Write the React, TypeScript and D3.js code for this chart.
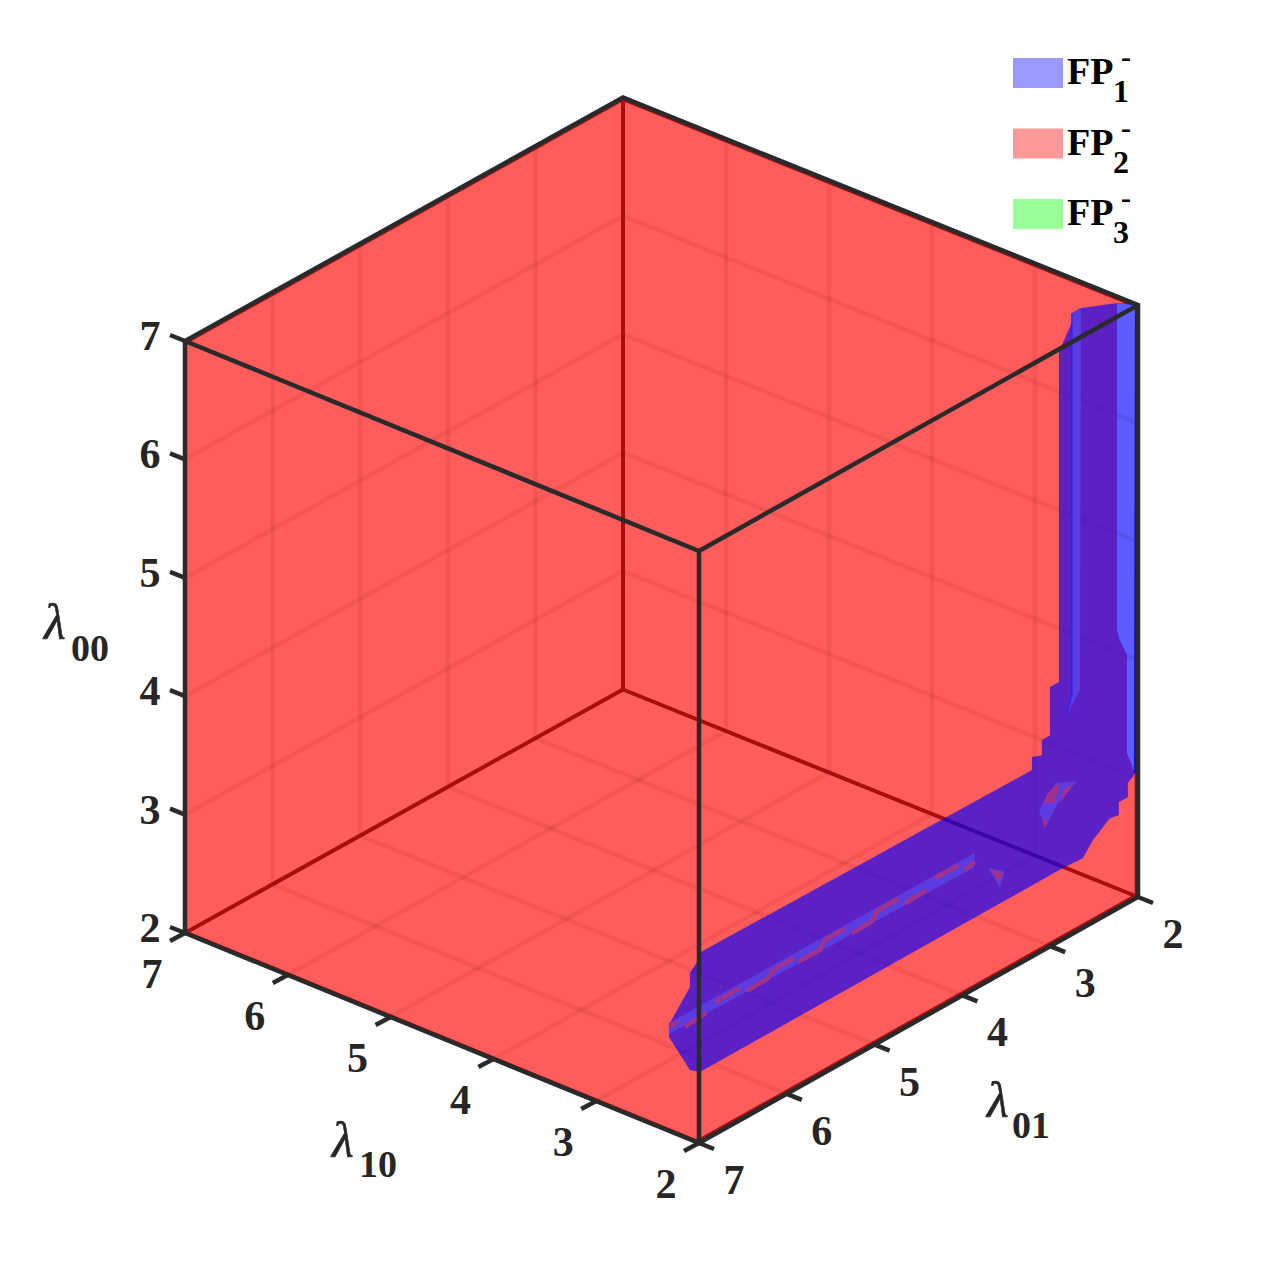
import React from "react";
import * as d3 from "d3";

// Axis values
const ticks = [2, 3, 4, 5, 6, 7];
const interiorTicks = [3, 4, 5, 6];
const legendIndexes = ["1", "2", "3"];
const legendColors = ["#9999ff", "#ff9999", "#99ff99"];

// FP1 surface as seen, [lambda01, lambda00] on the sheet lambda10 = sheet
const sheet = 2.3;
const fp1Outline = [
  [1.672, 6.757], [1.706, 6.788], [1.911, 6.873], [2.31, 6.997], [2.401, 6.992], [2.401, 6.916], [2.515, 6.769],
  [2.549, 6.725], [2.549, 3.938], [2.651, 3.938], [2.651, 3.532], [2.743, 3.528], [2.743, 3.401], [2.856, 3.432],
  [2.856, 3.322], [6.649, 3.352], [6.672, 3.286], [6.752, 3.226], [6.752, 3.108], [6.979, 2.899], [6.991, 2.785],
  [6.752, 2.407], [6.638, 2.343], [2.503, 2.348], [2.276, 2.337], [2.162, 2.442], [1.968, 2.547], [1.866, 2.53],
  [1.866, 2.64], [1.763, 2.639], [1.763, 2.758], [1.683, 2.809],
];
const fp1Band = [
  [1.888, 6.864], [1.672, 6.757], [1.683, 2.809], [1.774, 3.016], [1.774, 3.844], [1.854, 4.003], [1.888, 4.102],
];
const fp1RightEdge = [[1.672, 6.757], [1.683, 2.809]];
const fp1Fold = [[2.401, 6.992], [2.298, 6.992], [2.31, 3.77], [2.469, 3.617], [2.401, 3.766]];
const fp1FoldLine = [[2.401, 6.992], [2.401, 3.766], [2.469, 3.617]];
const fp1Slit = [[6.991, 2.904], [3.506, 2.891], [3.506, 2.773], [6.991, 2.811]];
const fp1Dashes = [
  [[6.987, 2.871], [6.885, 2.87]],
  [[6.809, 2.796], [6.562, 2.812]],
  [[6.459, 2.862], [6.182, 2.861]],
  [[6.106, 2.808], [5.878, 2.81], [5.803, 2.857], [5.575, 2.861]],
  [[5.518, 2.809], [5.271, 2.805], [5.214, 2.866], [4.986, 2.87]],
  [[4.91, 2.796], [4.682, 2.8], [4.625, 2.861], [4.379, 2.872]],
  [[4.303, 2.797], [4.056, 2.807]],
  [[3.961, 2.867], [3.696, 2.868]],
  [[3.62, 2.795], [3.506, 2.818]],
];
const holes = [
  [[2.583, 3.099], [2.344, 3.016], [2.56, 2.921], [2.708, 2.77], [2.777, 2.951], [2.674, 3.035]],
  [[3.358, 2.703], [3.164, 2.597], [3.221, 2.486]],
];
const holeCores = [
  [[2.572, 3.085], [2.538, 3.063], [2.595, 2.934], [2.731, 2.992], [2.674, 3.052]],
  [[2.367, 3.017], [2.538, 2.91], [2.503, 3.007]],
  [[2.731, 2.848], [2.663, 2.819], [2.708, 2.77]],
  [[3.335, 2.685], [3.187, 2.598], [3.232, 2.524]],
];

const FONT = "'Liberation Serif', 'Times New Roman', serif";
const INK = "#262626";

const x10 = d3.scaleLinear().domain([2, 7]).range([0, -514]);
const y10 = d3.scaleLinear().domain([2, 7]).range([0, -210]);
const x01 = d3.scaleLinear().domain([7, 2]).range([0, 439]);
const y01 = d3.scaleLinear().domain([7, 2]).range([0, -246]);
const y00 = d3.scaleLinear().domain([2, 7]).range([0, -592]);
const depth10 = d3.scaleLinear().domain([2, 7]).range([0, 1]);
const depth01 = d3.scaleLinear().domain([7, 2]).range([0, 1]);

const project = (a: number, b: number, c: number): [number, number] => {
  const skew = depth10(a) * depth01(b);
  return [699 + x10(a) + x01(b) - skew, 1143 + y10(a) + y01(b) + y00(c) + 2.5 * skew];
};

const path = d3.line<[number, number]>();
const poly3 = (pts: [number, number, number][], closed = false) =>
  path(pts.map((p) => project(p[0], p[1], p[2]))) + (closed ? "Z" : "");
const sheetPath = (pts: number[][], closed = true) =>
  poly3(pts.map((p) => [sheet, p[0], p[1]] as [number, number, number]), closed);

const gridSegments: [number, number, number][][] = interiorTicks.flatMap((t) => [
  [[7, t, 2], [7, t, 7]],
  [[7, 7, t], [7, 2, t]],
  [[t, 2, 2], [t, 2, 7]],
  [[2, 2, t], [7, 2, t]],
  [[t, 7, 2], [t, 2, 2]],
  [[2, t, 2], [7, t, 2]],
]) as [number, number, number][][];

const Grid = ({ opacity }: { opacity: number }) => (
  <g fill="none" stroke="#000" strokeOpacity={opacity} strokeWidth={4.5}>
    {gridSegments.map((s, i) => (
      <path key={i} d={poly3(s)} />
    ))}
  </g>
);

const backFaces: [number, number, number][][] = [
  [[2, 7, 2], [7, 7, 2], [7, 2, 2], [2, 2, 2]],
  [[7, 7, 2], [7, 2, 2], [7, 2, 7], [7, 7, 7]],
  [[2, 2, 2], [7, 2, 2], [7, 2, 7], [2, 2, 7]],
];
const frontFaces: [number, number, number][][] = [
  [[2, 7, 7], [7, 7, 7], [7, 2, 7], [2, 2, 7]],
  [[2, 7, 2], [7, 7, 2], [7, 7, 7], [2, 7, 7]],
  [[2, 7, 2], [2, 2, 2], [2, 2, 7], [2, 7, 7]],
];
const backEdges: [number, number, number][][] = [
  [[7, 2, 2], [7, 2, 7]],
  [[7, 2, 2], [7, 7, 2]],
  [[7, 2, 2], [2, 2, 2]],
];
const topFringe: [number, number, number][] = [[7, 7, 7], [7, 2, 7], [2, 2, 7]];
const bottomFringe: [number, number, number][] = [[7, 7, 2], [2, 7, 2], [2, 2, 2], [2, 2, 7]];
const frontEdges: [number, number, number][][] = [
  [[7, 7, 2], [2, 7, 2], [2, 2, 2], [2, 2, 7], [7, 2, 7], [7, 7, 7], [7, 7, 2]],
  [[2, 7, 2], [2, 7, 7]],
  [[7, 7, 7], [2, 7, 7], [2, 2, 7]],
];

const Digit = ({ x, y, t }: { x: number; y: number; t: number }) => (
  <text x={x} y={y} textAnchor="middle" fontFamily={FONT} fontWeight="bold" fontSize={42} fill={INK}>
    {t}
  </text>
);

const AxisLabel = ({ x, y, sub, sx, sy }: { x: number; y: number; sub: string; sx: number; sy: number }) => (
  <g fontFamily={FONT} fill={INK}>
    <text x={x} y={y} fontSize={50} fontStyle="italic" stroke={INK} strokeWidth={0.6}>λ</text>
    <text x={sx} y={sy} fontSize={38} fontWeight="bold">{sub}</text>
  </g>
);

export default function App() {
  return (
    <svg width={1278} height={1287} style={{ position: "absolute", left: 0, top: 0, background: "#fff" }}>
      <defs>
        <clipPath id="band">
          <path d={sheetPath(fp1Band)} />
        </clipPath>
      </defs>

      {backFaces.map((f, i) => (
        <path key={i} d={poly3(f, true)} fill="#ff0000" fillOpacity={0.4} />
      ))}
      <Grid opacity={0.08} />
      <g fill="none" stroke="#701818" strokeWidth={4}>
        {backEdges.map((e, i) => (
          <path key={i} d={poly3(e)} />
        ))}
      </g>
      {frontFaces.map((f, i) => (
        <path key={i} d={poly3(f, true)} fill="#ff0000" fillOpacity={0.4} />
      ))}
      <g fill="none" stroke="#a81010" strokeWidth={3.5}>
        <path d={poly3(topFringe)} transform="translate(0,1.8)" />
        <path d={poly3(bottomFringe)} transform="translate(-1.6,-1.6)" />
      </g>

      <path d={sheetPath(fp1Outline)} fill="#0000ff" fillOpacity={0.64} />
      <path d={sheetPath(fp1Fold)} fill="#5a3ce0" />
      <path d={sheetPath(fp1FoldLine, false)} fill="none" stroke="#2323f5" strokeWidth={1.2} />
      <path d={sheetPath(fp1Band)} fill="#5d5dff" />
      <g clipPath="url(#band)"><Grid opacity={0.08} /></g>
      <path d={sheetPath(fp1RightEdge, false)} fill="none" stroke="#1010c8" strokeWidth={2} />

      <path d={sheetPath(fp1Slit)} fill="#5a3ce0" />
      <g fill="none" stroke="#a0328c" strokeWidth={4.5} strokeLinejoin="miter">
        {fp1Dashes.map((d, i) => (
          <path key={i} d={sheetPath(d, false)} />
        ))}
      </g>
      {holes.map((h, i) => (
        <path key={i} d={sheetPath(h)} fill="#5a3ce0" />
      ))}
      {holeCores.map((h, i) => (
        <path key={i} d={sheetPath(h)} fill="#a0328c" />
      ))}

      <g fill="none" stroke="#2a2a2a" strokeWidth={4.5} strokeLinejoin="miter">
        {frontEdges.map((e, i) => (
          <path key={i} d={poly3(e)} />
        ))}
      </g>

      <g stroke="#2a2a2a" strokeWidth={4.5}>
        {ticks.map((t) => {
          const [zx, zy] = project(7, 7, t);
          const [ax, ay] = project(t, 7, 2);
          const [bx, by] = project(2, t, 2);
          return (
            <g key={t}>
              <line x1={zx} y1={zy} x2={zx - 15} y2={zy - 6} />
              <line x1={ax} y1={ay} x2={ax - 15} y2={ay + 8} />
              <line x1={bx} y1={by} x2={bx + 15} y2={by + 6} />
            </g>
          );
        })}
      </g>

      {ticks.map((t) => {
        const [zx, zy] = project(7, 7, t);
        const [ax, ay] = project(t, 7, 2);
        const [bx, by] = project(2, t, 2);
        return (
          <g key={t}>
            <Digit x={zx - 35} y={zy + 9} t={t} />
            <Digit x={ax - 33} y={ay + 55} t={t} />
            <Digit x={bx + 35} y={by + 51} t={t} />
          </g>
        );
      })}

      <AxisLabel x={44} y={639} sub="00" sx={71} sy={661} />
      <AxisLabel x={332} y={1157} sub="10" sx={359} sy={1177} />
      <AxisLabel x={987} y={1117} sub="01" sx={1012} sy={1138} />

      {legendIndexes.map((n, i) => {
        const top = 58 + i * 70.5;
        return (
          <g key={n} fontFamily={FONT} fontWeight="bold" fill="#000">
            <rect x={1013} y={top} width={50} height={30} fill={legendColors[i]} />
            <text x={1067} y={top + 26} fontSize={38}>FP</text>
            <text x={1121} y={top + 9} fontSize={30}>-</text>
            <text x={1113} y={top + 44} fontSize={32}>{n}</text>
          </g>
        );
      })}
    </svg>
  );
}
